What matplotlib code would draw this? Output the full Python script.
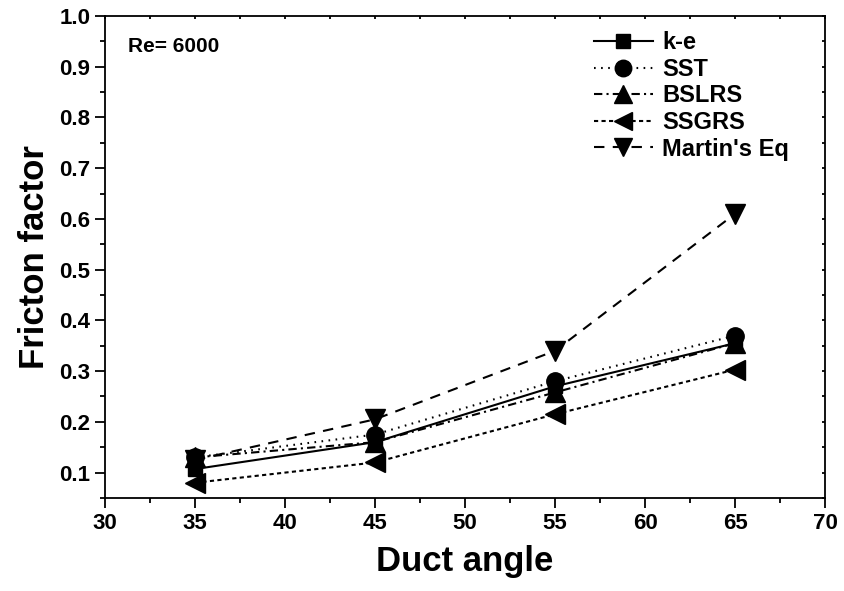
import numpy as np
import matplotlib.pyplot as plt
from matplotlib.ticker import MultipleLocator

plt.rcParams['font.family'] = ['Liberation Sans', 'DejaVu Sans']
plt.rcParams['font.weight'] = 'bold'

# duct angle (deg) and friction factor for each model
angle = [35, 45, 55, 65]
ke = [0.107, 0.160, 0.270, 0.355]
sst = [0.130, 0.175, 0.280, 0.370]
bslrs = [0.130, 0.160, 0.258, 0.355]
ssgrs = [0.080, 0.120, 0.215, 0.303]
martin = [0.125, 0.205, 0.340, 0.610]

labels = ['k-e', 'SST', 'BSLRS', 'SSGRS', "Martin's Eq"]

fig = plt.figure(figsize=(8.44, 5.91), dpi=100)
ax = fig.add_axes([0.1244, 0.1574, 0.8531, 0.8156])

lw = 1.5
ax.plot(angle, ke, color='k', lw=lw, ls='-', marker='s', ms=10, label=labels[0])
ax.plot(angle, sst, color='k', lw=lw, ls=(0, (0.8, 2.6)), marker='o', ms=12.5, label=labels[1])
ax.plot(angle, bslrs, color='k', lw=lw, ls=(0, (4, 2, 1, 2)), marker='^', ms=14, label=labels[2])
ax.plot(angle, ssgrs, color='k', lw=lw, ls=(0, (2, 1.6)), marker='<', ms=14, label=labels[3])
ax.plot(angle, martin, color='k', lw=lw, ls=(0, (5, 4)), marker='v', ms=14, label=labels[4])

ax.set_xlim(30, 70)
ax.set_ylim(0.05, 1.0)
ax.xaxis.set_major_locator(MultipleLocator(5))
ax.xaxis.set_minor_locator(MultipleLocator(2.5))
ax.yaxis.set_major_locator(MultipleLocator(0.1))
ax.yaxis.set_minor_locator(MultipleLocator(0.05))
ax.tick_params(which='major', direction='out', length=7, width=1.3, labelsize=16)
ax.tick_params(which='minor', direction='out', length=3.6, width=1.3)
# short inward ticks on the top and right frame
ax.tick_params(which='both', top=True, right=True)
ax.tick_params(axis='x', which='both', labeltop=False)
ax.tick_params(axis='y', which='both', labelright=False)
for sp in ax.spines.values():
    sp.set_linewidth(1.3)
for tk in ax.xaxis.get_major_ticks() + ax.xaxis.get_minor_ticks():
    tk.tick2line.set_markersize(2.5)
    tk.tick2line.set_marker(3)
for tk in ax.yaxis.get_major_ticks() + ax.yaxis.get_minor_ticks():
    tk.tick2line.set_markersize(2.5)
    tk.tick2line.set_marker(0)
for lab in ax.get_xticklabels() + ax.get_yticklabels():
    lab.set_fontweight('bold')

ax.set_xlabel('Duct angle', fontsize=25, fontweight='bold', labelpad=8)
ax.set_ylabel('Fricton factor', fontsize=25, fontweight='bold', labelpad=6)

ax.text(0.032, 0.936, 'Re= 6000', transform=ax.transAxes, fontsize=15,
        fontweight='bold', va='center', ha='left')

leg = ax.legend(loc='upper left', bbox_to_anchor=(0.679, 0.968), frameon=False,
                fontsize=17, handlelength=2.5, handletextpad=0.4,
                labelspacing=0.15, borderpad=0, borderaxespad=0, markerscale=0.95)
for t in leg.get_texts():
    t.set_fontweight('bold')

fig.savefig('out.png', dpi=100)
